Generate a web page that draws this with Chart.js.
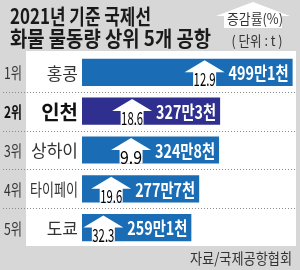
<!DOCTYPE html>
<html>
<head>
<meta charset="utf-8">
<script src="https://cdn.jsdelivr.net/npm/chart.js@4"></script>
<style>
  body { margin: 0; background: #d7d7d7; }
  #wrap { width: 300px; height: 270px; }
</style>
</head>
<body>
<div id="wrap"><canvas id="myChart" width="300" height="270"></canvas></div>
<script>
const ranks = ['1위', '2위', '3위', '4위', '5위'];
const airports = ['홍콩', '인천', '상하이', '타이페이', '도쿄'];
const volumes = [499.1, 327.3, 324.8, 277.7, 259.1]; // 만 t
const volumeLabels = ['499만1천', '327만3천', '324만8천', '277만7천', '259만1천'];
const growthRates = ['12.9', '18.6', '9.9', '19.6', '32.3']; // %
const highlight = 1; // 인천

const FONT = '"Noto Sans CJK KR", "Noto Sans", sans-serif';
Chart.defaults.font.family = FONT;

function upArrow(ctx, cx, top, bottom, bodyW, headW, headH) {
    ctx.beginPath();
    ctx.moveTo(cx, top);
    ctx.lineTo(cx + headW / 2, top + headH);
    ctx.lineTo(cx + bodyW / 2, top + headH);
    ctx.lineTo(cx + bodyW / 2, bottom);
    ctx.lineTo(cx - bodyW / 2, bottom);
    ctx.lineTo(cx - bodyW / 2, top + headH);
    ctx.lineTo(cx - headW / 2, top + headH);
    ctx.closePath();
    ctx.fill();
}

// draws text squeezed horizontally so it fits maxW, returns the width used
function squeezeText(ctx, text, x, y, maxW, align) {
    const w = ctx.measureText(text).width;
    const sx = Math.min(1, maxW / w);
    const drawn = w * sx;
    let left = x;
    if (align === 'center') left = x - drawn / 2;
    if (align === 'right') left = x - drawn;
    ctx.save();
    ctx.textAlign = 'left';
    ctx.translate(left, y);
    ctx.scale(sx, 1);
    ctx.fillText(text, 0, 0);
    ctx.restore();
    return drawn;
}

// background, panel, title, separators
const backdrop = {
    id: 'backdrop',
    beforeDraw(chart) {
        const ctx = chart.ctx;
        const y = chart.scales.y;
        ctx.save();
        ctx.fillStyle = '#d7d7d7';
        ctx.fillRect(0, 0, 300, 270);
        ctx.fillStyle = '#ffffff';
        ctx.fillRect(26, chart.chartArea.top - 2, 270, chart.chartArea.bottom - chart.chartArea.top + 1);

        // dotted lines between rows
        ctx.strokeStyle = '#8a8a8a';
        ctx.lineWidth = 1;
        ctx.setLineDash([1, 2]);
        for (let i = 0; i < airports.length - 1; i++) {
            const yy = Math.round((y.getPixelForValue(i) + y.getPixelForValue(i + 1)) / 2) + 0.5;
            ctx.beginPath();
            ctx.moveTo(3, yy);
            ctx.lineTo(296, yy);
            ctx.stroke();
        }
        ctx.setLineDash([]);

        // title
        ctx.fillStyle = '#1a1a1a';
        ctx.textBaseline = 'middle';
        ctx.font = 'bold 21px ' + FONT;
        squeezeText(ctx, '2021년 기준 국제선', 10, 16, 141, 'left');
        squeezeText(ctx, '화물 물동량 상위 5개 공항', 10, 38, 201, 'left');

        // unit box
        ctx.fillStyle = '#ffffff';
        upArrow(ctx, 253, 2, 28, 58, 74, 14);
        ctx.fillStyle = '#333333';
        ctx.font = '14px ' + FONT;
        squeezeText(ctx, '증감률(%)', 255, 19, 56, 'center');
        squeezeText(ctx, '( 단위 : t )', 257, 41, 51, 'center');
        ctx.restore();
    },
    afterDatasetsDraw(chart) {
        const ctx = chart.ctx;
        const meta = chart.getDatasetMeta(0);
        ctx.save();
        ctx.textBaseline = 'middle';
        meta.data.forEach((bar, i) => {
            const cy = bar.y;
            const h = bar.height;
            const end = bar.x;
            const top = cy - h / 2;
            const bottom = cy + h / 2;

            // value label
            ctx.font = 'bold 18px ' + FONT;
            ctx.fillStyle = '#ffffff';
            const w = squeezeText(ctx, volumeLabels[i], end - 4, cy + 1, 60, 'right');

            // growth arrow
            const ax = end - 4 - w - 24;
            ctx.fillStyle = '#ffffff';
            upArrow(ctx, ax, top + 1.5, bottom, 23, 40, 12);
            ctx.fillStyle = '#000000';
            ctx.font = '18px ' + FONT;
            squeezeText(ctx, growthRates[i], ax, bottom - 6.5, 22, 'center');

            // rank and airport
            const bold = i === highlight;
            ctx.fillStyle = bold ? '#111111' : '#333333';
            ctx.font = (bold ? 'bold ' : '') + '16px ' + FONT;
            squeezeText(ctx, ranks[i], 4, cy + 1, 18, 'left');
            ctx.font = bold ? 'bold 20px ' + FONT : '17px ' + FONT;
            squeezeText(ctx, airports[i], 78, cy + 1, 48, 'right');
        });

        // source
        ctx.fillStyle = '#333333';
        ctx.font = '15px ' + FONT;
        squeezeText(ctx, '자료/국제공항협회', 292, 258, 102, 'right');
        ctx.restore();
    }
};

const ctx = document.getElementById('myChart').getContext('2d');
const volumeChart = new Chart(ctx, {
    type: 'bar',
    data: {
        labels: airports,
        datasets: [{
            data: volumes,
            backgroundColor: volumes.map((v, i) => i === highlight ? '#2e2f8e' : '#1a6db5'),
            borderWidth: 0,
            barPercentage: 0.7,
            categoryPercentage: 1
        }]
    },
    options: {
        indexAxis: 'y',
        responsive: false,
        animation: false,
        layout: { padding: { top: 53, bottom: 23, left: 82, right: 7 } },
        scales: {
            x: { display: false, min: 0, max: 500 },
            y: { display: false }
        },
        plugins: {
            legend: { display: false },
            tooltip: { enabled: false }
        }
    },
    plugins: [backdrop]
});
</script>
</body>
</html>
